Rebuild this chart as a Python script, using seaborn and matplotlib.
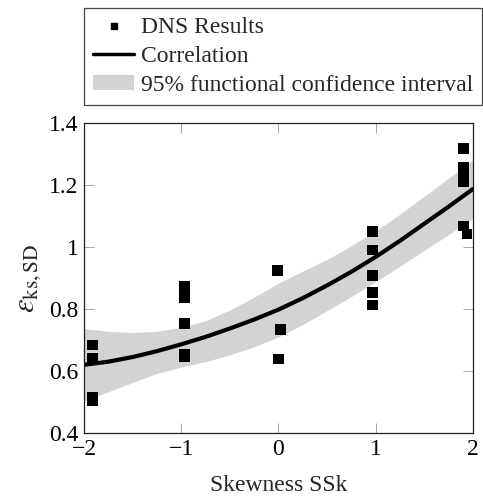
import numpy as np
import matplotlib
matplotlib.use("Agg")
import matplotlib.pyplot as plt
import seaborn as sns
from matplotlib.lines import Line2D
from matplotlib.patches import Patch
from matplotlib.ticker import FuncFormatter

# DNS results
dns_x = [-1.91, -1.91, -1.91, -1.91,
         -0.97, -0.97, -0.97, -0.97, -0.97,
         -0.01, 0.02, 0.0,
         0.97, 0.97, 0.97, 0.97, 0.97,
         1.90, 1.90, 1.90, 1.90, 1.90, 1.90, 1.94]
dns_y = [0.684, 0.641, 0.515, 0.505,
         0.873, 0.836, 0.752, 0.655, 0.645,
         0.923, 0.735, 0.639,
         1.051, 0.990, 0.909, 0.853, 0.813,
         1.318, 1.257, 1.240, 1.225, 1.211, 1.068, 1.042]

fit_x = [-2.0, -1.75, -1.5, -1.25, -1.0, -0.75, -0.5, -0.25, 0.0,
         0.25, 0.5, 0.75, 1.0, 1.25, 1.5, 1.75, 2.0]
fit_y = [0.620, 0.630, 0.645, 0.664, 0.686, 0.710, 0.737, 0.766, 0.798,
         0.835, 0.876, 0.920, 0.968, 1.020, 1.075, 1.130, 1.187]
band_hi = [0.737, 0.728, 0.724, 0.728, 0.741, 0.762, 0.797, 0.838, 0.884,
           0.922, 0.960, 1.004, 1.052, 1.106, 1.164, 1.222, 1.281]
band_lo = [0.503, 0.533, 0.563, 0.592, 0.613, 0.630, 0.652, 0.678, 0.710,
           0.750, 0.795, 0.840, 0.888, 0.938, 0.989, 1.040, 1.094]

x_ticks = [-2, -1, 0, 1, 2]
y_ticks = [0.4, 0.6, 0.8, 1.0, 1.2, 1.4]

sns.set_theme(style="white")
plt.rcParams["font.family"] = ["Liberation Serif", "DejaVu Serif"]
plt.rcParams["mathtext.fontset"] = "stix"
plt.rcParams["axes.unicode_minus"] = True

fig = plt.figure(figsize=(4.83, 4.99), dpi=100)
ax = fig.add_axes([0.174, 0.1323, 0.805, 0.6212])

band_color = "#d3d3d3"
ax.fill_between(fit_x, band_lo, band_hi, color=band_color, lw=0, zorder=1)
sns.lineplot(x=fit_x, y=fit_y, color="black", linewidth=3, ax=ax, zorder=2)
sns.scatterplot(x=dns_x, y=dns_y, marker="s", s=60, color="black",
                edgecolor="none", linewidth=0, ax=ax, zorder=3)

ax.set_xlim(-2, 2)
ax.set_ylim(0.4, 1.4)
ax.set_xticks(x_ticks)
ax.set_yticks(y_ticks)
ax.yaxis.set_major_formatter(FuncFormatter(lambda v, p: f"{v:g}"))
ax.tick_params(direction="in", length=7, width=0.6, color="#999999",
               labelsize=17, labelcolor="black", top=True, right=True,
               bottom=True, left=True, pad=4)
for sp in ax.spines.values():
    sp.set_color("#222222")
    sp.set_linewidth(0.9)

ax.set_xlabel("Skewness SSk", fontsize=17, labelpad=11)
ax.set_ylabel(r"$\varepsilon_{\mathrm{ks,SD}}$", fontsize=22, labelpad=4)

handles = [
    Line2D([], [], marker="s", color="black", linestyle="none", markersize=5),
    Line2D([], [], color="black", linewidth=2.5),
    Patch(facecolor=band_color, edgecolor="none"),
]
labels = ["DNS Results", "Correlation", "95% functional confidence interval"]
leg = fig.legend(handles, labels, loc="upper left",
                 bbox_to_anchor=(0.174, 1 - 8 / 499), bbox_transform=fig.transFigure,
                 fontsize=17, frameon=True, fancybox=False, framealpha=1,
                 edgecolor="#444444", handlelength=1.7, handleheight=0.6,
                 handletextpad=0.3, labelspacing=0.33, borderpad=0.4,
                 borderaxespad=0)
leg.get_frame().set_linewidth(0.9)

fig.savefig("out.png", dpi=100)
